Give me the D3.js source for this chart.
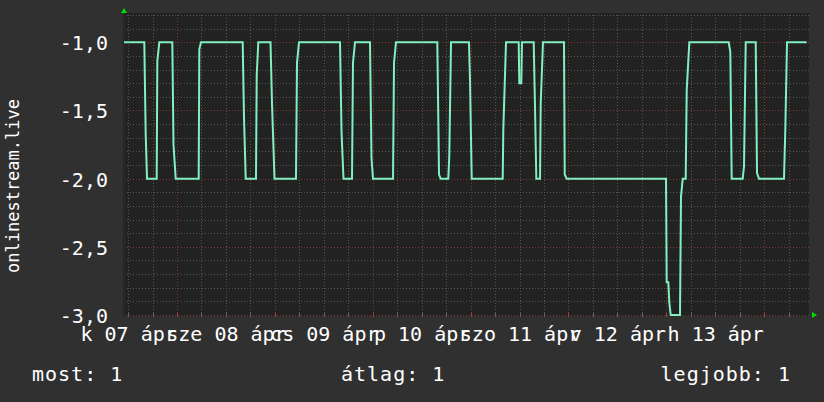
<!DOCTYPE html>
<html>
<head>
<meta charset="utf-8">
<script src="https://cdn.jsdelivr.net/npm/d3@7"></script>
<style>
  html, body { margin: 0; padding: 0; background: #303030; }
  svg { display: block; }
  text { font-family: "DejaVu Sans Mono", monospace; fill: #ffffff; }
</style>
</head>
<body>
<svg id="chart" width="824" height="402"></svg>
<script>
// ---- data (hours since 2020-04-07 00:00 UTC, value) ----
const hours = [11.0, 15.98, 16.32, 16.64, 19.02, 19.17, 19.66, 22.85, 23.14, 23.68,
  29.32, 29.47, 29.89, 40.11, 40.43, 40.85, 43.37, 43.55, 43.94, 46.93, 47.30, 47.91,
  53.18, 53.43, 53.92, 63.98, 64.34, 64.83, 66.92, 67.16, 67.66, 71.33, 71.70, 72.07,
  76.98, 77.22, 77.71, 87.84, 88.26, 88.67, 90.54, 90.78, 91.20, 95.61, 95.86, 96.28,
  103.88, 104.03, 104.69, 107.80, 107.95, 108.44, 108.61, 111.48, 111.80, 112.12,
  113.03, 113.20, 113.76, 118.91, 119.09, 119.58, 143.93, 144.10, 144.50, 144.74, 145.08,
  147.36, 147.61, 148.03, 148.76, 149.01, 149.65, 159.31, 159.70, 160.04, 162.74, 163.06,
  163.48, 165.93, 166.25, 166.74, 172.87, 173.19, 173.61, 178.44];
const values = [-1, -1, -1.67, -2, -2, -1.14, -1, -1, -1.75, -2,
  -2, -1.05, -1, -1, -1.55, -2, -2, -1.24, -1, -1, -1.45, -2,
  -2, -1.15, -1, -1, -1.65, -2, -2, -1.15, -1, -1, -1.85, -2,
  -2, -1.15, -1, -1, -1.97, -2, -2, -1.83, -1, -1, -1.28, -2,
  -2, -1.64, -1, -1, -1.3, -1.3, -1, -1, -1.47, -2,
  -2, -1.45, -1, -1, -1.97, -2, -2, -2.76, -2.76, -2.91, -3,
  -3, -2.13, -2, -2, -1.35, -1, -1, -1.07, -2, -2, -1.91,
  -1, -1, -1.96, -2, -2, -1.64, -1, -1];

const dayLabels = ["k 07 ápr", "sze 08 ápr", "cs 09 ápr", "p 10 ápr", "szo 11 ápr", "v 12 ápr", "h 13 ápr"];
const yTickValues = [-3.0, -2.5, -2.0, -1.5, -1.0];
const yTickLabels = ["-3,0", "-2,5", "-2,0", "-1,5", "-1,0"];
const yTitle = "onlinestream.live";
const legendItems = ["most: 1", "átlag: 1", "legjobb: 1"];

// ---- layout ----
const svg = d3.select("#chart");
const W = 824, H = 402;
const plot = { left: 124, right: 809, top: 15, bottom: 315 };
const base = Date.UTC(2020, 3, 7);
const toDate = h => new Date(base + h * 3600e3);
const tStart = toDate(11), tEnd = toDate(179);

const x = d3.scaleUtc().domain([tStart, tEnd]).range([plot.left, plot.right]);
const y = d3.scaleLinear().domain([-3.0, -0.8]).range([plot.bottom, plot.top]);

svg.append("rect").attr("width", W).attr("height", H).attr("fill", "#303030");
svg.append("rect")
  .attr("x", plot.left - 1).attr("y", plot.top - 2)
  .attr("width", plot.right - plot.left + 1).attr("height", plot.bottom - plot.top + 3)
  .attr("fill", "#222222");

const grid = svg.append("g").attr("shape-rendering", "crispEdges");
const minorCol = "#555555", majorCol = "#7a3a3a";

// horizontal grid
const yMinor = d3.range(0, 23).map(i => -3.0 + i * 0.1);
yMinor.forEach(v => {
  const isMajor = Math.abs(v * 2 - Math.round(v * 2)) < 1e-6;
  const py = Math.round(y(v)) + 0.5;
  grid.append("line")
    .attr("x1", plot.left).attr("x2", plot.right)
    .attr("y1", py).attr("y2", py)
    .attr("stroke", isMajor ? majorCol : minorCol)
    .attr("stroke-dasharray", "1,2");
});

// vertical grid
const vMinor = d3.utcHour.every(6).range(tStart, tEnd);
vMinor.forEach(t => {
  const isMajor = t.getUTCHours() === 0;
  const px = Math.round(x(t)) + 0.5;
  grid.append("line")
    .attr("x1", px).attr("x2", px)
    .attr("y1", plot.top).attr("y2", plot.bottom)
    .attr("stroke", isMajor ? majorCol : minorCol)
    .attr("stroke-dasharray", "1,2");
  grid.append("line")
    .attr("x1", px).attr("x2", px)
    .attr("y1", plot.bottom - 2).attr("y2", plot.bottom + 2)
    .attr("stroke", isMajor ? "#a04040" : "#666666");
});

// axes lines
grid.append("line").attr("x1", plot.left + 0.5).attr("x2", plot.left + 0.5)
  .attr("y1", plot.top - 2).attr("y2", plot.bottom + 1).attr("stroke", "#2c2c2c");

// data line
const pts = hours.map((h, i) => ({ t: toDate(h), v: values[i] }));
svg.append("path")
  .datum(pts)
  .attr("fill", "none")
  .attr("stroke", "#80f0c0")
  .attr("stroke-width", 2)
  .attr("stroke-linejoin", "miter")
  .attr("d", d3.line().x(d => x(d.t)).y(d => y(d.v)));

// arrows
svg.append("path").attr("d", `M${plot.left - 3},13 L${plot.left + 3},13 L${plot.left},8 Z`).attr("fill", "#00dd00");
svg.append("path").attr("d", `M812,${plot.bottom - 3} L812,${plot.bottom + 3} L817,${plot.bottom} Z`).attr("fill", "#00dd00");

// y axis
const yAxis = d3.axisLeft(y)
  .tickValues(yTickValues)
  .tickFormat((d, i) => yTickLabels[i])
  .tickSize(0).tickPadding(16);
const gy = svg.append("g").attr("transform", `translate(${plot.left},0)`).call(yAxis);
gy.select(".domain").remove();
gy.selectAll("text").attr("font-size", 20).attr("font-family", "DejaVu Sans Mono").attr("fill", "#fff").attr("dy", "0.37em");

// x axis (labels at noon)
const noonTicks = dayLabels.map((_, i) => toDate(12 + 24 * i));
const xAxis = d3.axisBottom(x)
  .tickValues(noonTicks)
  .tickFormat((d, i) => dayLabels[i])
  .tickSize(0).tickPadding(0);
const gx = svg.append("g").attr("transform", `translate(0,${plot.bottom})`).call(xAxis);
gx.select(".domain").remove();
gx.selectAll("text").attr("font-size", 20).attr("font-family", "DejaVu Sans Mono").attr("fill", "#fff")
  .attr("dy", null).attr("y", 26);

// y title
svg.append("text")
  .attr("transform", "translate(18.5,186) rotate(-90)")
  .attr("text-anchor", "middle")
  .attr("font-size", 17)
  .text(yTitle);

// legend
const lg = svg.append("g").attr("font-size", 20).attr("letter-spacing", "1px");
lg.append("text").attr("x", 32).attr("y", 381).text(legendItems[0]);
lg.append("text").attr("x", 341).attr("y", 381).text(legendItems[1]);
lg.append("text").attr("x", 791).attr("y", 381).attr("text-anchor", "end").text(legendItems[2]);
</script>
</body>
</html>
